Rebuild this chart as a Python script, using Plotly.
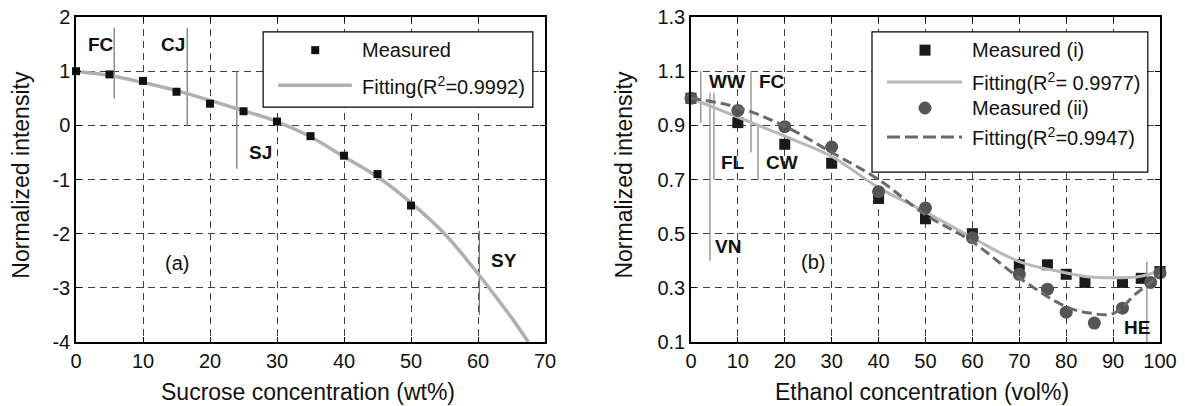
import plotly.graph_objects as go

# ---------------- Data: panel (a) sucrose ----------------
a_x = [0, 5, 10, 15, 20, 25, 30, 35, 40, 45, 50]
a_measured = [1.0, 0.94, 0.82, 0.62, 0.40, 0.26, 0.07, -0.20, -0.56, -0.90, -1.48]
a_fit_x = [0, 5, 10, 15, 20, 25, 30, 35, 40, 45, 50, 55, 60, 62.5, 65, 67.5]
a_fit_y = [1.0, 0.92, 0.79, 0.64, 0.46, 0.27, 0.07, -0.21, -0.58, -0.95, -1.43, -2.0, -2.74, -3.14, -3.55, -4.0]
a_ref_labels = ["FC", "CJ", "SJ", "SY"]
a_ref_x = [5.7, 16.6, 24.0, 60.2]
a_ref_y0 = [0.5, 0.0, -0.8, -3.5]
a_ref_y1 = [1.8, 1.8, 1.0, -1.95]
a_lab_x = [3.7, 14.5, 27.5, 63.8]
a_lab_y = [1.5, 1.5, -0.5, -2.5]
a_yticks = [-4, -3, -2, -1, 0, 1, 2]
a_yticktext = ["-4", "-3", "-2", "-1", "0", "1", "2"]

# ---------------- Data: panel (b) ethanol ----------------
b_x1 = [0, 10, 20, 30, 40, 50, 60, 70, 76, 80, 84, 92, 96, 100]
b_measured1 = [1.0, 0.91, 0.83, 0.76, 0.63, 0.555, 0.50, 0.385, 0.385, 0.35, 0.32, 0.32, 0.335, 0.36]
b_x2 = [0, 10, 20, 30, 40, 50, 60, 70, 76, 80, 86, 92, 98, 100]
b_measured2 = [1.0, 0.955, 0.895, 0.82, 0.655, 0.595, 0.485, 0.35, 0.295, 0.21, 0.17, 0.225, 0.32, 0.355]
b_fit_x = [0, 10, 20, 30, 40, 50, 60, 70, 80, 85, 90, 95, 98, 100]
b_fit1 = [1.0, 0.93, 0.86, 0.785, 0.67, 0.58, 0.485, 0.397, 0.355, 0.34, 0.337, 0.34, 0.352, 0.366]
b_fit2 = [1.0, 0.966, 0.897, 0.80, 0.70, 0.57, 0.47, 0.337, 0.23, 0.207, 0.205, 0.28, 0.32, 0.35]
b_ref_labels = ["WW", "VN", "FL", "FC", "CW", "HE"]
b_ref_x = [2.1, 4.05, 4.9, 12.8, 14.3, 97.2]
b_ref_y0 = [0.91, 0.40, 0.70, 0.80, 0.70, 0.10]
b_ref_y1 = [1.10, 1.02, 1.02, 1.10, 0.90, 0.396]
b_lab_x = [7.7, 7.9, 9.0, 17.3, 19.4, 95.1]
b_lab_y = [1.063, 0.452, 0.763, 1.063, 0.763, 0.155]

FONT = "Arial, Liberation Sans, sans-serif"

fig = go.Figure()


def ref_lines(xs, y0s, y1s, xa, ya, color):
    lx, ly = [], []
    for x, y0, y1 in zip(xs, y0s, y1s):
        lx += [x, x, None]
        ly += [y0, y1, None]
    fig.add_trace(go.Scatter(x=lx, y=ly, mode="lines", xaxis=xa, yaxis=ya,
                             line=dict(color=color, width=1.3), showlegend=False,
                             hoverinfo="skip"))


# panel (a)
ref_lines(a_ref_x, a_ref_y0, a_ref_y1, "x", "y", "#7a7a7a")
fig.add_trace(go.Scatter(x=a_fit_x, y=a_fit_y, mode="lines", line=dict(color="#b0b0b0", width=3.5, shape="spline"),
                         name="Fitting(R<sup>2</sup>=0.9992)", xaxis="x", yaxis="y", showlegend=False))
fig.add_trace(go.Scatter(x=a_x, y=a_measured, mode="markers", marker=dict(symbol="square", size=8, color="#111111"),
                         name="Measured", xaxis="x", yaxis="y", showlegend=False, cliponaxis=False))

# panel (b)
ref_lines(b_ref_x, b_ref_y0, b_ref_y1, "x2", "y2", "#8a8a8a")
fig.add_trace(go.Scatter(x=b_x1, y=b_measured1, mode="markers", marker=dict(symbol="square", size=11, color="#1a1a1a"),
                         name="Measured (i)", xaxis="x2", yaxis="y2", showlegend=False, cliponaxis=False))
fig.add_trace(go.Scatter(x=b_fit_x, y=b_fit1, mode="lines", line=dict(color="#b8b8b8", width=3, shape="spline"),
                         name="Fitting(R<sup>2</sup>= 0.9977)", xaxis="x2", yaxis="y2", showlegend=False))
fig.add_trace(go.Scatter(x=b_x2, y=b_measured2, mode="markers", marker=dict(symbol="circle", size=13, color="#555555"),
                         name="Measured (ii)", xaxis="x2", yaxis="y2", showlegend=False, cliponaxis=False))
fig.add_trace(go.Scatter(x=b_fit_x, y=b_fit2, mode="lines", line=dict(color="#6a6a6a", width=3, dash="10px,5px", shape="spline"),
                         name="Fitting(R<sup>2</sup>=0.9947)", xaxis="x2", yaxis="y2", showlegend=False))

annotations = []
for t, x, y in zip(a_ref_labels, a_lab_x, a_lab_y):
    annotations.append(dict(text="<b>%s</b>" % t, x=x, y=y, xref="x", yref="y", showarrow=False,
                            font=dict(family=FONT, size=19, color="#111")))
for t, x, y in zip(b_ref_labels, b_lab_x, b_lab_y):
    annotations.append(dict(text="<b>%s</b>" % t, x=x, y=y, xref="x2", yref="y2", showarrow=False,
                            font=dict(family=FONT, size=19, color="#111")))
annotations.append(dict(text="(a)", x=15.1, y=-2.54, xref="x", yref="y", showarrow=False,
                        font=dict(family=FONT, size=20, color="#111")))
annotations.append(dict(text="(b)", x=26.0, y=0.396, xref="x2", yref="y2", showarrow=False,
                        font=dict(family=FONT, size=20, color="#111")))

# axis titles as paper annotations (plot area: px 76..1160 horizontally, 17..342 vertically)
TITLE_FONT = dict(family=FONT, size=23, color="#111")
annotations.append(dict(text="Sucrose concentration (wt%)", x=0.2136, y=-0.154, xref="paper", yref="paper",
                        showarrow=False, font=TITLE_FONT, xanchor="center", yanchor="middle"))
annotations.append(dict(text="Ethanol concentration (vol%)", x=0.7804, y=-0.154, xref="paper", yref="paper",
                        showarrow=False, font=TITLE_FONT, xanchor="center", yanchor="middle"))
annotations.append(dict(text="Normalized intensity", x=-0.0507, y=0.515, xref="paper", yref="paper",
                        showarrow=False, font=TITLE_FONT, textangle=-90, xanchor="center", yanchor="middle"))
annotations.append(dict(text="Normalized intensity", x=0.5055, y=0.515, xref="paper", yref="paper",
                        showarrow=False, font=TITLE_FONT, textangle=-90, xanchor="center", yanchor="middle"))

shapes = []


# ---- manual legends (positions in axis-domain units) ----
def legend_box(xd, yd, x0, x1, y0, y1):
    shapes.append(dict(type="rect", xref=xd, yref=yd, x0=x0, x1=x1, y0=y0, y1=y1,
                       fillcolor="white", line=dict(color="black", width=1.2), layer="above"))


def legend_text(xd, yd, x, y, text):
    annotations.append(dict(text=text, x=x, y=y, xref=xd, yref=yd, xanchor="left", yanchor="middle",
                            showarrow=False, font=dict(family=FONT, size=20, color="#111")))


def legend_marker(xd, yd, x, y, kind, size, color):
    h = size / 2.0
    shapes.append(dict(type=kind, xref=xd, yref=yd, xsizemode="pixel", ysizemode="pixel",
                       xanchor=x, yanchor=y, x0=-h, x1=h, y0=-h, y1=h,
                       fillcolor=color, line=dict(width=0), layer="above"))


def legend_line(xd, yd, x0, x1, y, color, width, dash="solid"):
    shapes.append(dict(type="line", xref=xd, yref=yd, x0=x0, x1=x1, y0=y, y1=y,
                       line=dict(color=color, width=width, dash=dash), layer="above"))


legend_box("x domain", "y domain", 0.399, 0.974, 0.723, 0.954)
legend_marker("x domain", "y domain", 0.510, 0.898, "rect", 8, "#111111")
legend_text("x domain", "y domain", 0.606, 0.898, "Measured")
legend_line("x domain", "y domain", 0.431, 0.588, 0.790, "#b0b0b0", 3.5)
legend_text("x domain", "y domain", 0.606, 0.790, "Fitting(R<sup>2</sup>=0.9992)")

legend_box("x2 domain", "y2 domain", 0.386, 0.974, 0.523, 0.954)
legend_marker("x2 domain", "y2 domain", 0.499, 0.898, "rect", 11, "#1a1a1a")
legend_text("x2 domain", "y2 domain", 0.595, 0.898, "Measured (i)")
legend_line("x2 domain", "y2 domain", 0.418, 0.578, 0.800, "#b8b8b8", 3)
legend_text("x2 domain", "y2 domain", 0.595, 0.800, "Fitting(R<sup>2</sup>= 0.9977)")
legend_marker("x2 domain", "y2 domain", 0.499, 0.720, "circle", 13, "#555555")
legend_text("x2 domain", "y2 domain", 0.595, 0.720, "Measured (ii)")
legend_line("x2 domain", "y2 domain", 0.418, 0.578, 0.631, "#6a6a6a", 3, "13px,5px")
legend_text("x2 domain", "y2 domain", 0.595, 0.631, "Fitting(R<sup>2</sup>=0.9947)")

axis_common = dict(showline=True, linecolor="black", linewidth=1.5, mirror="ticks",
                   ticks="inside", ticklen=5, tickcolor="black", tickwidth=1,
                   showgrid=True, gridcolor="#404040", gridwidth=1, griddash="7px,5px",
                   zeroline=False, automargin=False,
                   tickfont=dict(family=FONT, size=20, color="#111"))

fig.update_layout(
    width=1185, height=406,
    margin=dict(l=76, r=25, t=17, b=64, autoexpand=False),
    paper_bgcolor="white", plot_bgcolor="white",
    showlegend=False,
    xaxis=dict(domain=[0, 0.4327], range=[0, 70], dtick=10, anchor="y", ticklabelstandoff=0, **axis_common),
    yaxis=dict(range=[-4, 2], tickvals=a_yticks, ticktext=a_yticktext, anchor="x", **axis_common),
    xaxis2=dict(domain=[0.5673, 1], range=[0, 100], dtick=10, anchor="y2", ticklabelstandoff=0, **axis_common),
    yaxis2=dict(range=[0.1, 1.3], dtick=0.2, tick0=0.1, tickformat=".1f", anchor="x2", **axis_common),
    annotations=annotations,
    shapes=shapes,
)

fig.write_html("out.html", config={"displayModeBar": False},
               post_script="document.body.style.margin='0px';document.body.style.overflow='hidden';")
